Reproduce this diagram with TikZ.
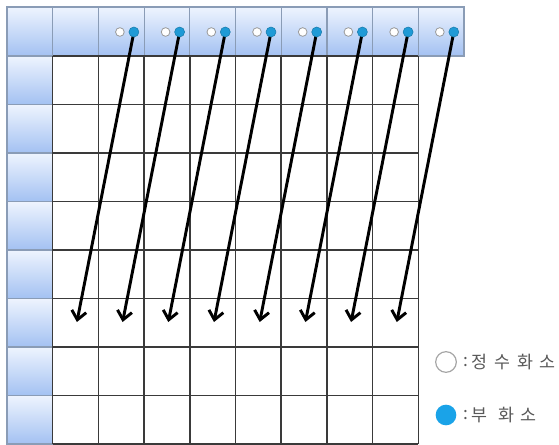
\documentclass[tikz,border=0pt]{standalone}
\usepackage{fontspec}
\newfontfamily\krfont[LetterSpace=40]{Noto Sans CJK KR}
\newfontfamily\krplain{Noto Sans CJK KR}
\usetikzlibrary{arrows.meta}
\definecolor{hdtop}{HTML}{EEF4FE}
\definecolor{hdbot}{HTML}{A3C1F2}
\definecolor{hdline}{HTML}{8A9CB6}
\definecolor{dotblue}{HTML}{1F9AD6}
\definecolor{legblue}{HTML}{1AA3E8}
\definecolor{gridline}{HTML}{3A3A3A}
\tikzset{
  hcell/.style={top color=hdtop, bottom color=hdbot, draw=hdline, line width=0.9pt},
  gridln/.style={draw=gridline, line width=1.1pt},
  wdot/.style={circle, draw=gray!80, fill=white, line width=0.6pt, minimum size=6.5pt, inner sep=0pt},
  bdot/.style={circle, draw=dotblue!80!black, fill=dotblue, line width=0.4pt, minimum size=7.5pt, inner sep=0pt},
  scanarrow/.style={line width=2.2pt, -{Straight Barb[length=6.5pt,width=11pt,line width=2.2pt]}},
  legtext/.style={anchor=west, inner sep=0pt, text=black!65, font=\krfont\fontsize{13}{15}\selectfont},
  legcolon/.style={anchor=west, inner sep=0pt, text=black!65, font=\krplain\fontsize{13}{15}\selectfont},
}
\begin{document}
\begin{tikzpicture}[x=0.75pt,y=-0.75pt]
\useasboundingbox (0,0) rectangle (559,445);
\fill[white] (0,0) rectangle (559,445);
% header row
\foreach \i in {0,...,9} {
  \path[hcell] ({7+45.7*\i},7) rectangle ({7+45.7*(\i+1)},56);
}
% left column
\foreach \j in {0,...,7} {
  \path[hcell] (7,{56+48.5*\j}) rectangle (52.7,{56+48.5*(\j+1)});
}
% body grid
\foreach \i in {1,...,9} {
  \draw[gridln] ({7+45.7*\i},56) -- ({7+45.7*\i},444);
}
\foreach \j in {0,...,8} {
  \draw[gridln] (52.7,{56+48.5*\j}) -- (418.3,{56+48.5*\j});
}
% dots and arrows
\foreach \i [count=\k] in {2,...,9} {
  \node[wdot] (w\k) at ({7+45.7*\i+21.5},32) {};
  \coordinate (e\k) at ({7+45.7*\i+35.5-57},322);
  \draw[scanarrow] ({7+45.7*\i+35.5},32) -- (e\k);
  \node[bdot] (b\k) at ({7+45.7*\i+35.5},32) {};
}
% legend
\node[circle, draw=gray!70, fill=white, line width=0.9pt, minimum size=15.5pt, inner sep=0pt] (lw) at (446,362) {};
\node[legcolon] (lwc) at (463,362) {:};
\node[legtext] (lwt) at (471,362) {정수화소};
\node[circle, fill=legblue, minimum size=15.5pt, inner sep=0pt] (lb) at (446,415) {};
\node[legcolon] (lbc) at (463,415) {:};
\node[legtext] (lbt) at (471,415) {부 화소};
\end{tikzpicture}
\end{document}
